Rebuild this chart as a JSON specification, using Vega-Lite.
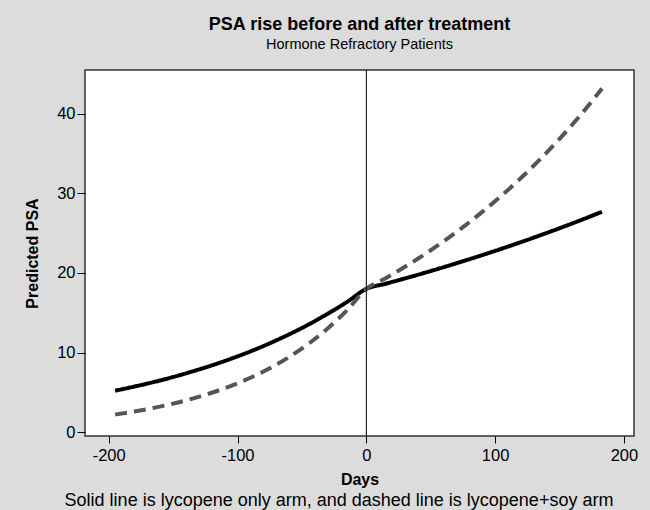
{
  "$schema": "https://vega.github.io/schema/vega-lite/v6.json",
  "width": 549,
  "height": 366,
  "autosize": {"type": "none"},
  "padding": {"left": 85, "top": 70, "right": 16, "bottom": 74},
  "background": "#dcdcdc",
  "title": {
    "text": "PSA rise before and after treatment",
    "subtitle": "Hormone Refractory Patients",
    "anchor": "middle",
    "frame": "group",
    "font": "Liberation Sans",
    "fontSize": 18,
    "fontWeight": "bold",
    "color": "#000",
    "subtitleFont": "Liberation Sans",
    "subtitleFontSize": 14.5,
    "subtitleColor": "#000",
    "subtitlePadding": 4,
    "offset": 18
  },
  "config": {
    "view": {"stroke": "#333", "strokeWidth": 1.5, "fill": "#ffffff"},
    "axis": {
      "labelFont": "Liberation Sans",
      "labelFontSize": 16.5,
      "labelColor": "#000",
      "titleFont": "Liberation Sans",
      "titleFontSize": 16,
      "titleFontWeight": "bold",
      "titleColor": "#000",
      "tickColor": "#000",
      "domainColor": "#000",
      "grid": false
    }
  },
  "data": {
    "values": [
      {"day": -195, "psa": 5.2, "arm": "lycopene"},
      {"day": -180, "psa": 5.72, "arm": "lycopene"},
      {"day": -165, "psa": 6.29, "arm": "lycopene"},
      {"day": -150, "psa": 6.92, "arm": "lycopene"},
      {"day": -135, "psa": 7.62, "arm": "lycopene"},
      {"day": -120, "psa": 8.38, "arm": "lycopene"},
      {"day": -105, "psa": 9.22, "arm": "lycopene"},
      {"day": -90, "psa": 10.14, "arm": "lycopene"},
      {"day": -75, "psa": 11.16, "arm": "lycopene"},
      {"day": -60, "psa": 12.28, "arm": "lycopene"},
      {"day": -45, "psa": 13.51, "arm": "lycopene"},
      {"day": -30, "psa": 14.87, "arm": "lycopene"},
      {"day": -15, "psa": 16.36, "arm": "lycopene"},
      {"day": 0, "psa": 18.0, "arm": "lycopene"},
      {"day": 15, "psa": 18.65, "arm": "lycopene"},
      {"day": 30, "psa": 19.32, "arm": "lycopene"},
      {"day": 45, "psa": 20.01, "arm": "lycopene"},
      {"day": 60, "psa": 20.73, "arm": "lycopene"},
      {"day": 75, "psa": 21.48, "arm": "lycopene"},
      {"day": 90, "psa": 22.25, "arm": "lycopene"},
      {"day": 105, "psa": 23.05, "arm": "lycopene"},
      {"day": 120, "psa": 23.88, "arm": "lycopene"},
      {"day": 135, "psa": 24.74, "arm": "lycopene"},
      {"day": 150, "psa": 25.63, "arm": "lycopene"},
      {"day": 165, "psa": 26.55, "arm": "lycopene"},
      {"day": 183, "psa": 27.7, "arm": "lycopene"},
      {"day": -195, "psa": 2.2, "arm": "lycopene+soy"},
      {"day": -180, "psa": 2.59, "arm": "lycopene+soy"},
      {"day": -165, "psa": 3.04, "arm": "lycopene+soy"},
      {"day": -150, "psa": 3.57, "arm": "lycopene+soy"},
      {"day": -135, "psa": 4.2, "arm": "lycopene+soy"},
      {"day": -120, "psa": 4.94, "arm": "lycopene+soy"},
      {"day": -105, "psa": 5.8, "arm": "lycopene+soy"},
      {"day": -90, "psa": 6.82, "arm": "lycopene+soy"},
      {"day": -75, "psa": 8.02, "arm": "lycopene+soy"},
      {"day": -60, "psa": 9.43, "arm": "lycopene+soy"},
      {"day": -45, "psa": 11.08, "arm": "lycopene+soy"},
      {"day": -30, "psa": 13.03, "arm": "lycopene+soy"},
      {"day": -15, "psa": 15.31, "arm": "lycopene+soy"},
      {"day": 0, "psa": 18.0, "arm": "lycopene+soy"},
      {"day": 15, "psa": 19.34, "arm": "lycopene+soy"},
      {"day": 30, "psa": 20.78, "arm": "lycopene+soy"},
      {"day": 45, "psa": 22.32, "arm": "lycopene+soy"},
      {"day": 60, "psa": 23.98, "arm": "lycopene+soy"},
      {"day": 75, "psa": 25.76, "arm": "lycopene+soy"},
      {"day": 90, "psa": 27.68, "arm": "lycopene+soy"},
      {"day": 105, "psa": 29.73, "arm": "lycopene+soy"},
      {"day": 120, "psa": 31.94, "arm": "lycopene+soy"},
      {"day": 135, "psa": 34.32, "arm": "lycopene+soy"},
      {"day": 150, "psa": 36.87, "arm": "lycopene+soy"},
      {"day": 165, "psa": 39.61, "arm": "lycopene+soy"},
      {"day": 183, "psa": 43.2, "arm": "lycopene+soy"}
    ]
  },
  "layer": [
    {
      "mark": {"type": "line", "strokeWidth": 4, "strokeCap": "butt", "interpolate": "monotone"},
      "encoding": {
        "x": {
          "field": "day", "type": "quantitative",
          "scale": {"domain": [-218.4, 207.8], "nice": false, "zero": false},
          "axis": {"title": "Days", "values": [-200, -100, 0, 100, 200], "labelExpr": "replace(datum.label, '\u2212', '-')", "tickSize": 7, "labelPadding": 4, "titlePadding": 8, "domain": false}
        },
        "y": {
          "field": "psa", "type": "quantitative",
          "scale": {"domain": [-0.5, 45.53], "nice": false, "zero": false},
          "axis": {"title": "Predicted PSA", "values": [0, 10, 20, 30, 40], "tickSize": 8, "labelPadding": 2, "titlePadding": 16, "domain": false}
        },
        "color": {"field": "arm", "type": "nominal", "scale": {"domain": ["lycopene", "lycopene+soy"], "range": ["#000000", "#555555"]}, "legend": null},
        "strokeDash": {"field": "arm", "type": "nominal", "scale": {"domain": ["lycopene", "lycopene+soy"], "range": [[1, 0], [12, 7]]}, "legend": null}
      }
    },
    {
      "data": {"values": [{"d": 0}]},
      "mark": {"type": "rule", "color": "#000", "strokeWidth": 1},
      "encoding": {
        "x": {
          "field": "d", "type": "quantitative",
          "scale": {"domain": [-218.4, 207.8], "nice": false, "zero": false},
          "axis": {"orient": "bottom", "title": "Solid line is lycopene only arm, and dashed line is lycopene+soy arm", "titleFontWeight": "normal", "titleFontSize": 18, "titleX": 253.5, "titleAlign": "center", "labels": false, "ticks": false, "domain": false, "titlePadding": 55, "offset": 0}
        }
      }
    }
  ],
  "resolve": {"scale": {"x": "independent"}}
}
